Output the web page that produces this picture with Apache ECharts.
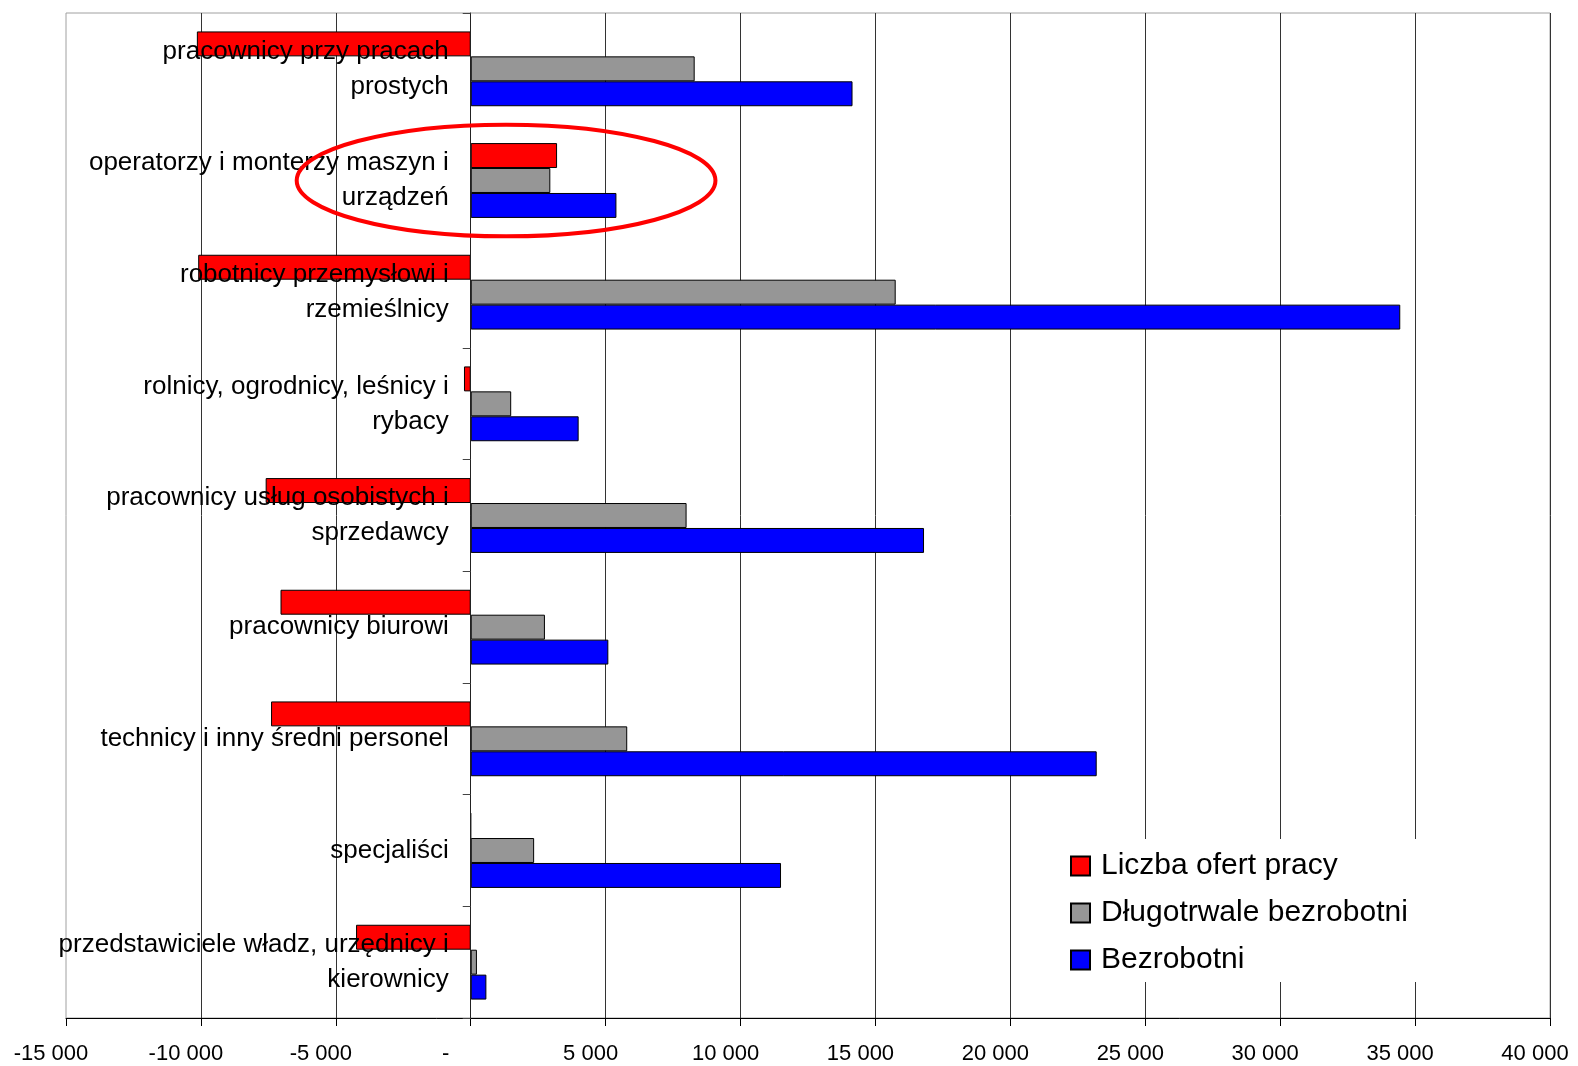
<!DOCTYPE html>
<html>
<head>
<meta charset="utf-8">
<script src="https://cdn.jsdelivr.net/npm/echarts@6/dist/echarts.min.js"></script>
<style>
html,body{margin:0;padding:0;background:#fff;}
#chart{width:1578px;height:1066px;}
</style>
</head>
<body>
<div id="chart"></div>
<script>
const categories = [
  'pracownicy przy pracach\nprostych',
  'operatorzy i monterzy maszyn i\nurządzeń',
  'robotnicy przemysłowi i\nrzemieślnicy',
  'rolnicy, ogrodnicy, leśnicy i\nrybacy',
  'pracownicy usług osobistych i\nsprzedawcy',
  'pracownicy biurowi',
  'technicy i inny średni personel',
  'specjaliści',
  'przedstawiciele władz, urzędnicy i\nkierownicy'
];
const seriesNames = ['Liczba ofert pracy', 'Długotrwale bezrobotni', 'Bezrobotni'];
const ofertyPracy = [-10150, 3200, -10100, -250, -7600, -7050, -7400, 0, -4250];
const dlugotrwale = [8300, 2950, 15750, 1500, 8000, 2750, 5800, 2350, 230];
const bezrobotni = [14150, 5400, 34450, 4000, 16800, 5100, 23200, 11500, 580];
const xTicks = { min: -15000, max: 40000, interval: 5000 };
// highlighted category (red ellipse): category index, centre value, half-width in value units
const highlight = { category: 1, center: 1310, halfWidth: 7760 };

const FONT = 'Liberation Sans, Arial, sans-serif';
function fmt(v) {
  if (v === 0) return '{z|-}';
  const s = Math.abs(v).toString().replace(/\B(?=(\d{3})+(?!\d))/g, ' ');
  return '{n|' + (v < 0 ? '-' : '') + s + '}';
}

const chart = echarts.init(document.getElementById('chart'));
const colors = ['#ff0000', '#969696', '#0000ff'];
const values = [ofertyPracy, dlugotrwale, bezrobotni];

chart.setOption({
  animation: false,
  backgroundColor: '#fff',
  textStyle: { fontFamily: FONT },
  grid: {
    left: 66, right: 28, top: 13, bottom: 48, show: true,
    borderColor: '#a0a0a0', borderWidth: 1,
    containLabel: false, outerBoundsMode: 'none'
  },
  legend: {
    orient: 'vertical', left: 1052, top: 839,
    padding: [12, 130, 7, 18], itemGap: 17,
    backgroundColor: '#fff',
    icon: 'rect', itemWidth: 19, itemHeight: 19,
    textStyle: { fontSize: 30, color: '#000', fontFamily: FONT, padding: [0, 0, 0, 6] },
    data: seriesNames
  },
  xAxis: {
    type: 'value', min: xTicks.min, max: xTicks.max, interval: xTicks.interval,
    axisLine: { show: true, onZero: false, lineStyle: { color: '#000', width: 1 } },
    axisTick: { show: true, length: 8, lineStyle: { color: '#000' } },
    splitLine: { show: true, showMinLine: false, lineStyle: { color: '#333', width: 1 } },
    axisLabel: {
      fontSize: 22, color: '#000', margin: 25, fontFamily: FONT,
      formatter: fmt,
      rich: {
        n: { fontSize: 22, color: '#000', fontFamily: FONT, padding: [0, 30, 0, 0] },
        z: { fontSize: 22, color: '#000', fontFamily: FONT, padding: [0, 50, 0, 0] }
      }
    }
  },
  yAxis: {
    type: 'category', inverse: true, data: categories, z: 10,
    axisLine: { show: true, onZero: false, lineStyle: { color: '#222', width: 1 } },
    axisTick: { show: true, length: 8, lineStyle: { color: '#444' } },
    splitLine: { show: false },
    axisLabel: { fontSize: 26, lineHeight: 35, color: '#000', margin: 22, fontFamily: FONT }
  },
  series: seriesNames.map((n, i) => ({
    name: n, type: 'bar', data: values[i],
    barGap: '0%', barCategoryGap: '33%',
    itemStyle: { color: colors[i], borderColor: '#000', borderWidth: 1 }
  }))
});

// put the category axis on the zero line of the value axis
const zeroPx = chart.convertToPixel({ xAxisIndex: 0 }, 0);
const minPx = chart.convertToPixel({ xAxisIndex: 0 }, xTicks.min);
chart.setOption({ yAxis: { offset: -(zeroPx - minPx) } });

const c = chart.convertToPixel({ gridIndex: 0 }, [highlight.center, highlight.category]);
const edge = chart.convertToPixel({ xAxisIndex: 0 }, highlight.center + highlight.halfWidth);
const nextCat = chart.convertToPixel({ yAxisIndex: 0 }, highlight.category + 1);
chart.setOption({
  graphic: [{
    type: 'ellipse', z: 100,
    shape: { cx: c[0], cy: c[1], rx: Math.abs(edge - c[0]), ry: Math.abs(nextCat - c[1]) / 2 },
    style: { fill: 'none', stroke: '#ff0000', lineWidth: 4 }
  }]
});
</script>
</body>
</html>
